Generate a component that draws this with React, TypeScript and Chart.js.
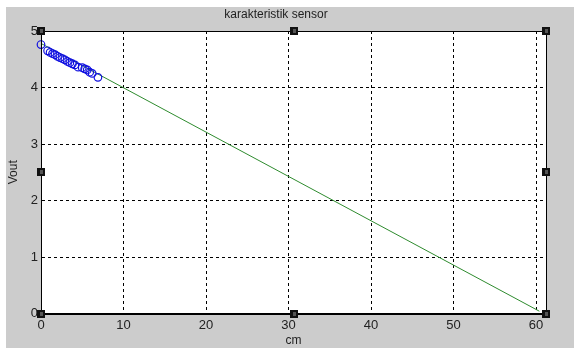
import React, { useEffect, useRef } from "react";
import { Chart, registerables } from "chart.js";

Chart.register(...registerables);

const titleText = "karakteristik sensor";
const xLabel = "cm";
const yLabel = "Vout";

const measuredX = [0, 0.8, 1.1, 1.4, 1.7, 2.0, 2.3, 2.6, 2.9, 3.2, 3.5, 3.8, 4.1, 4.5, 5.0, 5.3, 5.6, 5.9, 6.2, 6.9];
const measuredY = [4.76, 4.65, 4.62, 4.60, 4.58, 4.55, 4.53, 4.51, 4.49, 4.46, 4.44, 4.42, 4.40, 4.36, 4.35, 4.33, 4.31, 4.27, 4.25, 4.18];

const fitX = [0, 60.4];
const fitY = [4.78, 0.04];

const xTicks = [0, 10, 20, 30, 40, 50, 60];
const yTicks = [0, 1, 2, 3, 4, 5];
const xMin = 0;
const xMax = 61.2;
const yMin = 0;
const yMax = 5;

const framePlugin = {
  id: "frame",
  beforeDraw(chart: any) {
    const { ctx, chartArea: a, width, height } = chart;
    ctx.save();
    ctx.fillStyle = "#cccccc";
    ctx.fillRect(0, 0, width, height);
    ctx.fillStyle = "#ffffff";
    ctx.fillRect(a.left, a.top, a.right - a.left, a.bottom - a.top);
    ctx.restore();
  },
  afterDraw(chart: any) {
    const { ctx, chartArea: a } = chart;
    ctx.save();
    ctx.strokeStyle = "#000";
    ctx.lineWidth = 1;
    ctx.strokeRect(Math.round(a.left) + 0.5, Math.round(a.top) + 0.5, Math.round(a.right - a.left), Math.round(a.bottom - a.top));
    const mx = (a.left + a.right) / 2;
    const my = (a.top + a.bottom) / 2;
    const pts = [
      [a.left, a.top], [mx, a.top], [a.right, a.top],
      [a.left, my], [a.right, my],
      [a.left, a.bottom], [mx, a.bottom], [a.right, a.bottom],
    ];
    for (const [px, py] of pts) {
      ctx.fillStyle = "#111";
      ctx.fillRect(Math.round(px) - 4, Math.round(py) - 4, 8, 8);
      ctx.fillStyle = "#555";
      ctx.fillRect(Math.round(px) - 1, Math.round(py) - 2, 3, 4);
    }
    ctx.restore();
  },
};

export default function App() {
  const ref = useRef<HTMLCanvasElement | null>(null);
  useEffect(() => {
    if (!ref.current) return;
    const font = { family: "'Liberation Sans', Arial, sans-serif", size: 13 };
    const chart = new Chart(ref.current, {
      type: "scatter",
      data: {
        datasets: [
          {
            type: "line",
            data: fitX.map((x, i) => ({ x, y: fitY[i] })),
            borderColor: "#2e8b2e",
            borderWidth: 1,
            pointRadius: 0,
            fill: false,
            order: 2,
          },
          {
            data: measuredX.map((x, i) => ({ x, y: measuredY[i] })),
            borderColor: "#1010e0",
            backgroundColor: "rgba(0,0,0,0)",
            borderWidth: 1.2,
            pointRadius: 3.8,
            clip: false,
            order: 1,
          },
        ],
      },
      options: {
        animation: false,
        responsive: false,
        devicePixelRatio: 1,
        layout: { padding: { left: 0, right: 28, top: 0, bottom: 0 } },
        plugins: {
          legend: { display: false },
          tooltip: { enabled: false },
          title: {
            display: true,
            text: titleText,
            color: "#222",
            font: { family: "'Liberation Sans', Arial, sans-serif", size: 12, weight: "normal" },
            padding: { top: 0, bottom: 9.6 },
          },
        },
        scales: {
          x: {
            type: "linear",
            min: xMin,
            max: xMax,
            afterBuildTicks: (s: any) => { s.ticks = xTicks.map((v) => ({ value: v })); },
            afterFit: (s: any) => { s.height = 34.5; },
            ticks: { color: "#222", font, padding: 4, maxRotation: 0 },
            grid: { color: "#000", drawTicks: false, lineWidth: 1 },
            border: { display: true, color: "#000", dash: [3, 3] } as any,
            title: { display: true, text: xLabel, color: "#222", font: { ...font, size: 12 }, padding: 0 },
          },
          y: {
            type: "linear",
            min: yMin,
            max: yMax,
            afterBuildTicks: (s: any) => { s.ticks = yTicks.map((v) => ({ value: v })); },
            afterFit: (s: any) => { s.width = 35; },
            ticks: { color: "#222", font, padding: 3 },
            grid: { color: "#000", drawTicks: false, lineWidth: 1 },
            border: { display: true, color: "#000", dash: [3, 3] } as any,
            title: { display: true, text: yLabel, color: "#222", font: { ...font, size: 12 }, padding: 0 },
          },
        },
      } as any,
      plugins: [framePlugin],
    });
    return () => chart.destroy();
  }, []);
  return (
    <div style={{ position: "fixed", left: 6, top: 7, width: 568, height: 341 }}>
      <canvas ref={ref} width={568} height={341} style={{ display: "block" }} />
    </div>
  );
}
